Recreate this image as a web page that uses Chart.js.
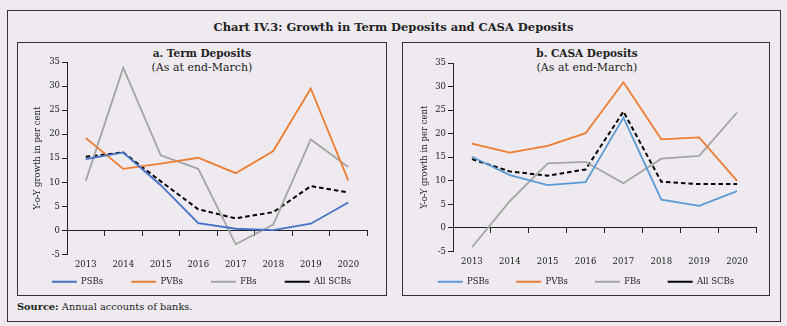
<!DOCTYPE html>
<html lang="en">

<head>
  <meta charset="UTF-8" />
  <title>Growth in Term Deposits and CASA Deposits</title>
  <script src="https://cdn.jsdelivr.net/npm/chart.js@4.4.1/dist/chart.umd.min.js"></script>
  <style>
    body {
      margin: 0;
      width: 787px;
      height: 326px;
      background-color: #eeeaf0;
      font-family: 'DejaVu Serif', serif;
      color: #222;
      position: relative;
      overflow: hidden;
    }

    .frame {
      position: absolute;
      left: 7px;
      top: 10px;
      width: 772px;
      height: 310px;
      border: 1px solid #333;
    }

    .panel {
      position: absolute;
      border: 1px solid #333;
    }

    .main-title {
      position: absolute;
      left: 0;
      width: 787px;
      top: 20px;
      text-align: center;
      font-weight: bold;
      font-size: 11.5px;
    }

    .panel-title {
      position: absolute;
      width: 200px;
      text-align: center;
      font-size: 11px;
      line-height: 14px;
    }

    .panel-title b {
      font-size: 10.5px;
    }

    .chart-box {
      position: absolute;
    }

    .source {
      position: absolute;
      left: 17px;
      top: 301px;
      font-size: 9.8px;
    }
  </style>
</head>

<body>
  <div class="frame"></div>
  <div class="main-title">Chart IV.3: Growth in Term Deposits and CASA Deposits</div>

  <div class="panel" style="left:17px; top:42px; width:368px; height:252px;"></div>
  <div class="panel" style="left:402px; top:42px; width:366px; height:252px;"></div>

  <div class="panel-title" style="left:102px; top:46px;"><b>a. Term Deposits</b><br>(As at end-March)</div>
  <div class="panel-title" style="left:487px; top:46px;"><b>b. CASA Deposits</b><br>(As at end-March)</div>

  <div class="chart-box" style="left:18px; top:43px;">
    <canvas id="termChart" width="367" height="258"></canvas>
  </div>
  <div class="chart-box" style="left:403px; top:44px;">
    <canvas id="casaChart" width="366" height="253"></canvas>
  </div>

  <div class="source"><b>Source:</b> Annual accounts of banks.</div>

  <script>
    const years = ['2013', '2014', '2015', '2016', '2017', '2018', '2019', '2020'];
    const seriesNames = ['PSBs', 'PVBs', 'FBs', 'All SCBs'];

    // y-o-y growth in term deposits, per cent
    const termPSBs = [14.8, 16.2, 9.4, 1.5, 0.35, 0.05, 1.4, 5.8];
    const termPVBs = [19.2, 12.8, 13.9, 15.1, 11.9, 16.5, 29.5, 10.4];
    const termFBs = [10.3, 33.8, 15.6, 12.8, -2.9, 1.2, 18.9, 13.2];
    const termAll = [15.3, 16.2, 10.2, 4.4, 2.5, 3.8, 9.2, 7.9];

    // y-o-y growth in CASA deposits, per cent
    const casaPSBs = [15.1, 11.2, 9.1, 9.7, 23.4, 6.0, 4.7, 7.8];
    const casaPVBs = [17.9, 16.0, 17.4, 20.1, 30.9, 18.8, 19.2, 10.0];
    const casaFBs = [-4.1, 5.7, 13.7, 14.0, 9.5, 14.7, 15.3, 24.5];
    const casaAll = [14.6, 12.0, 11.1, 12.4, 24.7, 9.8, 9.3, 9.3];

    const yMin = -5;
    const yMax = 35;
    const yStep = 5;

    const tickFont = { family: 'DejaVu Serif', size: 8.5 };

    // pulls the legend row up a few pixels after layout, so the
    // horizontal item spacing can stay wide without pushing it down
    const legendLift = {
      id: 'legendLift',
      afterLayout(chart, args, opts) {
        const lg = chart.legend;
        if (lg && opts.by) {
          lg.top -= opts.by;
          lg.bottom -= opts.by;
        }
      }
    };

    function buildChart(id, values, psbColor, cfg) {
      const colors = [psbColor, '#ed7d31', '#a5a5a5', '#000000'];
      const datasets = values.map((v, i) => ({
        label: seriesNames[i],
        data: v,
        borderColor: colors[i],
        backgroundColor: colors[i],
        borderWidth: i === 3 ? 2 : 1.8,
        borderDash: i === 3 ? [4.5, 3] : [],
        pointRadius: 0,
        tension: 0,
        xAxisID: 'x',
        yAxisID: 'y'
      }));

      return new Chart(document.getElementById(id), {
        type: 'line',
        data: { labels: years, datasets: datasets },
        plugins: [legendLift],
        options: {
          responsive: false,
          animation: false,
          layout: { padding: { left: 0, top: cfg.top, right: 0, bottom: 0 } },
          plugins: {
            tooltip: { enabled: false },
            legendLift: { by: cfg.lift },
            legend: {
              position: 'bottom',
              labels: {
                usePointStyle: true,
                pointStyle: 'line',
                pointStyleWidth: 25,
                boxHeight: 8.5,
                padding: cfg.legendPad,
                color: '#222',
                font: tickFont
              }
            }
          },
          scales: {
            // zero line with category boundary ticks
            x: {
              type: 'category',
              position: { y: 0 },
              offset: true,
              border: { display: true, color: '#222', width: 1 },
              grid: { display: true, drawOnChartArea: false, offset: true, drawTicks: true, tickLength: 5, color: '#222' },
              ticks: { display: false }
            },
            // year labels under the plot
            x2: {
              type: 'category',
              position: { y: yMin },
              offset: true,
              border: { display: false },
              grid: { display: false, drawTicks: false },
              ticks: { color: '#222', font: tickFont, padding: cfg.xPad, maxRotation: 0, autoSkip: false }
            },
            y: {
              position: 'left',
              min: yMin,
              max: yMax,
              border: { display: true, color: '#222', width: 1 },
              grid: { drawOnChartArea: false, tickLength: 5, color: '#222' },
              ticks: { stepSize: yStep, color: '#222', font: tickFont, padding: 2 },
              title: {
                display: true,
                text: 'Y-o-Y growth in per cent',
                color: '#222',
                font: { family: 'DejaVu Serif', size: 8.5 },
                padding: { top: cfg.titlePad, bottom: 0 }
              },
              afterFit: (scale) => { scale.width = cfg.axisWidth; }
            },
            // empty strip on the right so the legend keeps the full width
            yGap: {
              position: 'right',
              border: { display: false },
              grid: { display: false, drawTicks: false },
              ticks: { display: false },
              afterFit: (scale) => { scale.width = cfg.right; }
            }
          }
        }
      });
    }

    buildChart('termChart', [termPSBs, termPVBs, termFBs, termAll], '#4472c4',
      { top: 19, right: 18, legendPad: 28, lift: 5, xPad: 5, titlePad: 15, axisWidth: 49 });
    buildChart('casaChart', [casaPSBs, casaPVBs, casaFBs, casaAll], '#5b9bd5',
      { top: 19, right: 13, legendPad: 27, lift: 1, xPad: 5, titlePad: 17, axisWidth: 50 });
  </script>
</body>

</html>
